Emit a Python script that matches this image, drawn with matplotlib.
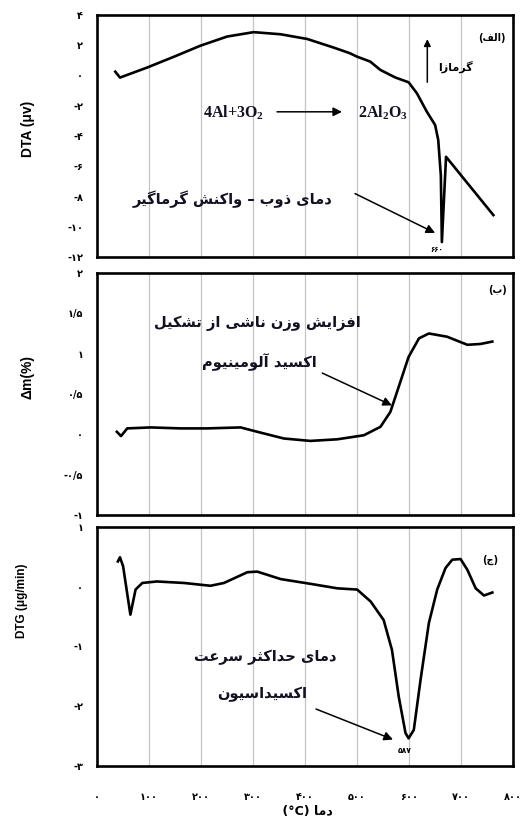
"""DTA / TG / DTG curves of aluminium powder oxidation (three stacked panels)."""
import matplotlib
matplotlib.use("Agg")
import matplotlib.pyplot as plt

plt.rcParams["mathtext.fontset"] = "custom"
plt.rcParams["mathtext.rm"] = "Liberation Serif:bold"
plt.rcParams["mathtext.it"] = "Liberation Serif:bold"

# ── minimal Persian shaping (matplotlib has no RTL / joining) ────────────────
# letter: (isolated, final, initial, medial); None => joins only to the right
FORMS = {
    "ا": ("\uFE8D", "\uFE8E", None, None),
    "آ": ("\uFE81", "\uFE82", None, None),
    "ب": ("\uFE8F", "\uFE90", "\uFE91", "\uFE92"),
    "ت": ("\uFE95", "\uFE96", "\uFE97", "\uFE98"),
    "ث": ("\uFE99", "\uFE9A", "\uFE9B", "\uFE9C"),
    "ج": ("\uFE9D", "\uFE9E", "\uFE9F", "\uFEA0"),
    "ح": ("\uFEA1", "\uFEA2", "\uFEA3", "\uFEA4"),
    "د": ("\uFEA9", "\uFEAA", None, None),
    "ذ": ("\uFEAB", "\uFEAC", None, None),
    "ر": ("\uFEAD", "\uFEAE", None, None),
    "ز": ("\uFEAF", "\uFEB0", None, None),
    "س": ("\uFEB1", "\uFEB2", "\uFEB3", "\uFEB4"),
    "ش": ("\uFEB5", "\uFEB6", "\uFEB7", "\uFEB8"),
    "ع": ("\uFEC9", "\uFECA", "\uFECB", "\uFECC"),
    "ف": ("\uFED1", "\uFED2", "\uFED3", "\uFED4"),
    "ک": ("\uFB8E", "\uFB8F", "\uFB90", "\uFB91"),
    "گ": ("\uFB92", "\uFB93", "\uFB94", "\uFB95"),
    "ل": ("\uFEDD", "\uFEDE", "\uFEDF", "\uFEE0"),
    "م": ("\uFEE1", "\uFEE2", "\uFEE3", "\uFEE4"),
    "ن": ("\uFEE5", "\uFEE6", "\uFEE7", "\uFEE8"),
    "و": ("\uFEED", "\uFEEE", None, None),
    "ی": ("\uFBFC", "\uFBFD", "\uFBFE", "\uFBFF"),
}
MIRROR = {"(": ")", ")": "("}


def fa(text):
    out = []
    for i, ch in enumerate(text):
        if ch not in FORMS:
            out.append(MIRROR.get(ch, ch))
            continue
        prev = text[i - 1] if i > 0 else ""
        nxt = text[i + 1] if i + 1 < len(text) else ""
        jp = prev in FORMS and FORMS[prev][2] is not None
        jn = nxt in FORMS and FORMS[ch][2] is not None
        iso, fin, ini, med = FORMS[ch]
        out.append(med if (jp and jn) else fin if jp else ini if jn else iso)
    return "".join(reversed(out))


# ── data ────────────────────────────────────────────────────────────────────
DTA_T = [35, 44, 96, 148, 199, 250, 301, 353, 404, 455, 486, 500, 525, 545,
         564, 574, 599, 615, 634, 650, 656, 661, 663, 671, 762]
DTA_V = [0.25, -0.14, 0.52, 1.24, 1.97, 2.57, 2.86, 2.72, 2.41, 1.84, 1.47,
         1.24, 0.92, 0.36, 0.03, -0.14, -0.45, -1.18, -2.39, -3.27, -4.26,
         -6.6, -11.0, -5.37, -9.22]

TG_T = [38, 46, 58, 103, 160, 212, 276, 308, 359, 410, 462, 513, 545, 564,
        580, 599, 619, 638, 673, 712, 737, 760]
TG_V = [0.033, -0.02, 0.075, 0.087, 0.075, 0.075, 0.087, 0.033, -0.05,
        -0.08, -0.06, -0.01, 0.095, 0.28, 0.59, 0.96, 1.19, 1.25, 1.21,
        1.11, 1.12, 1.15]

DTG_T = [40, 44, 50, 64, 74, 87, 115, 167, 218, 244, 289, 308, 353, 410,
         462, 500, 526, 551, 567, 580, 593, 599, 609, 622, 638, 654, 670,
         683, 699, 712, 728, 744, 760]
DTG_V = [0.42, 0.49, 0.34, -0.47, -0.05, 0.06, 0.085, 0.06, 0.013, 0.06,
         0.24, 0.25, 0.125, 0.046, -0.03, -0.05, -0.25, -0.56, -1.06, -1.84,
         -2.45, -2.54, -2.40, -1.56, -0.61, -0.05, 0.31, 0.45, 0.46, 0.28,
         -0.03, -0.15, -0.10]

X_TICKS = [0, 100, 200, 300, 400, 500, 600, 700, 800]
X_LABELS = ["۰", "۱۰۰", "۲۰۰", "۳۰۰", "۴۰۰", "۵۰۰", "۶۰۰", "۷۰۰", "۸۰۰"]
DTA_TICKS = [-12, -10, -8, -6, -4, -2, 0, 2, 4]
DTA_LABELS = ["-۱۲", "-۱۰", "-۸", "-۶", "-۴", "-۲", "۰", "۲", "۴"]
TG_TICKS = [-1, -0.5, 0, 0.5, 1, 1.5, 2]
TG_LABELS = ["-۱", "-۰/۵", "۰", "۰/۵", "۱", "۱/۵", "۲"]
DTG_TICKS = [-3, -2, -1, 0, 1]
DTG_LABELS = ["-۳", "-۲", "-۱", "۰", "۱"]

FA = ["DejaVu Sans"]
LAT = ["Liberation Sans", "DejaVu Sans"]

fig = plt.figure(figsize=(5.22, 8.27), dpi=100)
ax1 = fig.add_axes([0.186, 0.689, 0.797, 0.293])
ax2 = fig.add_axes([0.186, 0.377, 0.797, 0.293])
ax3 = fig.add_axes([0.186, 0.074, 0.797, 0.289])

panels = [
    (ax1, DTA_T, DTA_V, DTA_TICKS, DTA_LABELS, (-12, 4), "DTA (μv)", 10, 0.53, -0.15),
    (ax2, TG_T, TG_V, TG_TICKS, TG_LABELS, (-1, 2), "Δm(%)", 10, 0.57, -0.15),
    (ax3, DTG_T, DTG_V, DTG_TICKS, DTG_LABELS, (-3, 1), "DTG (μg/min)", 8.5, 0.69, -0.166),
]
for ax, t, v, yt, yl, ylim, ylab, lfs, ly, lx in panels:
    ax.plot(t, v, color="black", lw=1.9, solid_joinstyle="round")
    ax.set_xlim(0, 800)
    ax.set_ylim(*ylim)
    ax.set_yticks(yt)
    ax.set_yticklabels(yl, fontsize=7, fontweight="bold", family=FA)
    ax.set_xticks(X_TICKS)
    ax.grid(axis="x", color="#c4c4c4", lw=0.9)
    ax.tick_params(length=0, pad=10)
    for s in ax.spines.values():
        s.set_linewidth(1.9)
    ax.set_ylabel(ylab, fontsize=lfs, fontweight="bold", family=LAT)
    ax.yaxis.set_label_coords(lx, ly)

ax1.set_xticklabels([])
ax2.set_xticklabels([])
ax3.set_xticklabels(X_LABELS, fontsize=7, fontweight="bold", family=FA)
ax3.tick_params(axis="x", pad=19)
ax3.set_xlabel(" (°C) " + fa("دما"), fontsize=9, fontweight="bold", family=FA,
               labelpad=2)

arrow = dict(arrowstyle="-|>", color="black", lw=1.1, mutation_scale=13,
             shrinkA=0, shrinkB=0)
txt = dict(fontsize=10.5, fontweight="bold", family=FA, ha="center",
           va="center", color="#111122")

# panel (a) DTA
ax1.text(760, 2.48, fa("(الف)"), fontsize=7, fontweight="bold", family=FA,
         ha="center", va="center")
ax1.text(690, 0.56, fa("گرمازا"), fontsize=8, fontweight="bold", family=FA,
         ha="center", va="center")
ax1.annotate("", xy=(635, 2.4), xytext=(635, -0.45),
             arrowprops=dict(arrowstyle="-|>", color="black", lw=1.1,
                             mutation_scale=10, shrinkA=0, shrinkB=0))
ax1.text(262, -2.45, r"$\mathrm{4Al{+}3O_2}$", fontsize=11.5, ha="center",
         va="center", color="#111122")
ax1.text(550, -2.45, r"$\mathrm{2Al_2O_3}$", fontsize=11.5, ha="center",
         va="center", color="#111122")
ax1.annotate("", xy=(471, -2.4), xytext=(346, -2.4), arrowprops=arrow)
ax1.text(260, -8.2, fa("دمای ذوب – واکنش گرماگیر"), **txt)
ax1.annotate("", xy=(650, -10.4), xytext=(496, -7.8), arrowprops=arrow)
ax1.text(654, -11.55, "۶۶۰", fontsize=5, fontweight="bold", family=FA,
         ha="center", va="center")

# panel (b) TG
ax2.text(769, 1.79, fa("(ب)"), fontsize=7, fontweight="bold", family=FA,
         ha="center", va="center")
ax2.text(308, 1.38, fa("افزایش وزن ناشی از تشکیل"), **txt)
ax2.text(313, 0.9, fa("اکسید آلومینیوم"), **txt)
ax2.annotate("", xy=(567, 0.36), xytext=(433, 0.76), arrowprops=arrow)

# panel (c) DTG
ax3.text(756, 0.45, fa("(ج)"), fontsize=7, fontweight="bold", family=FA,
         ha="center", va="center")
ax3.text(323, -1.18, fa("دمای حداکثر سرعت"), **txt)
ax3.text(317, -1.81, fa("اکسیداسیون"), **txt)
ax3.annotate("", xy=(569, -2.56), xytext=(421, -2.05), arrowprops=arrow)
ax3.text(592, -2.74, "۵۸۷", fontsize=5.5, fontweight="bold", family=FA,
         ha="center", va="center")

fig.savefig("out.png", dpi=100)
